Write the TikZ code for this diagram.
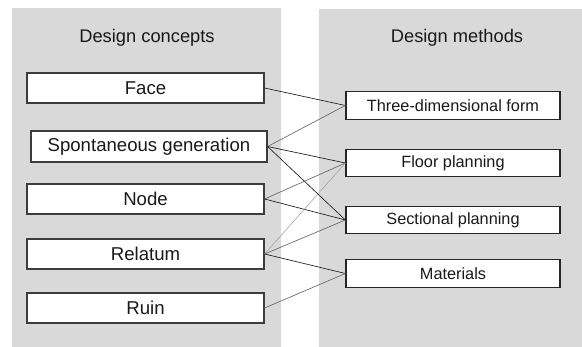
\documentclass[tikz,border=0pt]{standalone}
\usepackage{fontspec}
\setmainfont{Liberation Sans}
\usepackage{tikz}
\usepackage{xcolor}
\definecolor{ColPanel}{RGB}{217,217,217}
\definecolor{ColFrame}{RGB}{60,60,60}
\definecolor{ColText}{RGB}{25,25,25}
\tikzstyle{TitleText}=[text=ColText,inner sep=0pt,font=\fontsize{18.3}{20}\selectfont]
\tikzstyle{ConceptBox}=[rectangle,draw=ColFrame,fill=white,line width=1.2pt,text=ColText,
inner sep=0pt,minimum width=237pt,minimum height=30pt,font=\fontsize{18.6}{20}\selectfont]
\tikzstyle{MethodBox}=[rectangle,draw=black!85,fill=white,line width=1.2pt,text=ColText,
inner sep=0pt,minimum width=214pt,minimum height=27.5pt,font=\fontsize{16.3}{18}\selectfont]
\tikzstyle{LinkDark}=[black!90,line width=0.65pt]
\tikzstyle{LinkGray}=[black!60,line width=0.65pt]
\tikzstyle{LinkLight}=[black!35,line width=0.6pt]

\begin{document}
\begin{tikzpicture}[x=1pt,y=-1pt]
        \useasboundingbox(0,0)rectangle(582,347);
        % two column panels
        \fill[ColPanel](12,8)rectangle(281,347);
        \fill[ColPanel](319,9)rectangle(582,347);
        \node[TitleText](concepts)at(147,38){Design concepts};
        \node[TitleText](methods)at(457,38){Design methods};
        % design concepts
        \node[ConceptBox](face)at(145.5,88){Face};
        \node[ConceptBox,minimum width=236pt,minimum height=31pt](spont)at(149,146.5){Spontaneous generation};
        \node[ConceptBox](node)at(145.5,199){Node};
        \node[ConceptBox](relatum)at(145.5,254){Relatum};
        \node[ConceptBox](ruin)at(145.5,308){Ruin};
        % design methods
        \node[MethodBox](form)at(453,105.5){Three-dimensional form};
        \node[MethodBox](floor)at(453,163){Floor planning};
        \node[MethodBox](section)at(453,220){Sectional planning};
        \node[MethodBox](materials)at(453,273.5){Materials};
        % links
        \draw[LinkDark](face.east)--(form.west);
        \draw[LinkGray](spont.east)--(form.west);
        \draw[LinkDark](spont.east)--(floor.west);
        \draw[LinkDark](spont.east)--(section.west);
        \draw[LinkGray](node.east)--(floor.west);
        \draw[LinkDark](node.east)--(section.west);
        \draw[LinkLight](relatum.east)--(floor.west);
        \draw[LinkGray](relatum.east)--(section.west);
        \draw[LinkDark](relatum.east)--(materials.west);
        \draw[LinkGray](ruin.east)--(materials.west);
    \end{tikzpicture}
\end{document}
